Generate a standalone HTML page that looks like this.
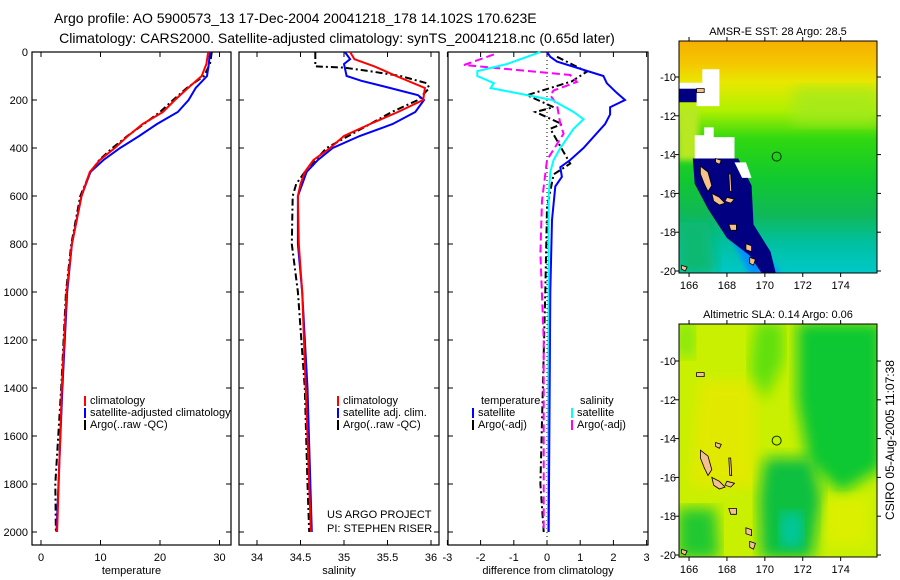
<!DOCTYPE html>
<html><head><meta charset="utf-8"><style>
html,body{margin:0;padding:0;background:#fff;}
svg{display:block;font-family:"Liberation Sans",sans-serif;}
</style></head><body>
<svg id="fig" width="900" height="580" viewBox="0 0 900 580">
<defs>
<linearGradient id="sstGrad" x1="0" y1="0" x2="0" y2="1">
<stop offset="0" stop-color="#f5b000"/><stop offset="0.1" stop-color="#f5c800"/><stop offset="0.18" stop-color="#e8e800"/><stop offset="0.3" stop-color="#b0f000"/><stop offset="0.42" stop-color="#30d810"/><stop offset="0.6" stop-color="#10c830"/><stop offset="0.75" stop-color="#10b858"/><stop offset="0.87" stop-color="#00c0a0"/><stop offset="1" stop-color="#00c8c8"/>
</linearGradient>
<filter id="blur6"><feGaussianBlur stdDeviation="7"/></filter>
<filter id="blur3"><feGaussianBlur stdDeviation="3"/></filter>
<clipPath id="clipMap1"><rect x="679" y="41" width="198" height="232"/></clipPath>
<clipPath id="clipMap2"><rect x="679" y="324" width="198" height="233"/></clipPath>
</defs>
<text x="54" y="23" font-size="14" text-anchor="start">Argo profile: AO 5900573_13 17-Dec-2004 20041218_178 14.102S 170.623E</text>
<text x="337" y="43" font-size="14" text-anchor="middle">Climatology: CARS2000. Satellite-adjusted climatology: synTS_20041218.nc (0.65d later)</text>
<g id="panels"></g>
<g id="maps"></g>
<text transform="translate(894,440) rotate(-90)" font-size="12" text-anchor="middle">CSIRO 05-Aug-2005 11:07:38</text>
</svg>
<script>
// ---------- data ----------
const depthTicks = [0,200,400,600,800,1000,1200,1400,1600,1800,2000];
const tempTicks = [0,10,20,30];
const salTicks = [34,34.5,35,35.5,36];
const diffTicks = [-3,-2,-1,0,1,2,3];

const tClimDepth = [0,50,100,150,200,250,300,350,400,450,500,600,800,1000,1400,2000];
const tClimVal   = [28.1,27.8,27.0,24.7,22.5,20.5,17.1,14.6,12.4,9.9,8.2,6.8,5.2,4.3,3.5,2.7];
const tSatDepth  = [0,50,100,150,200,250,300,350,400,450,500,600,800,1000,1400,2000];
const tSatVal    = [28.4,28.2,27.9,26.0,24.8,23.0,19.5,16.5,13.3,10.5,8.3,6.8,5.2,4.4,3.6,2.6];
const tArgoDepth = [0,50,100,150,200,250,300,350,400,450,500,600,800,1000,1400,1800,2000];
const tArgoVal   = [28.7,28.4,27.4,24.5,22.2,20.0,17.3,14.5,12.0,9.8,8.3,6.6,5.1,4.2,3.4,2.4,2.5];

const sClimDepth = [0,30,60,100,150,200,250,300,350,400,450,500,550,600,800,1000,1400,2000];
const sClimVal   = [35.07,35.12,35.35,35.6,35.93,35.91,35.62,35.3,35.0,34.84,34.65,34.55,34.5,34.47,34.48,34.52,34.56,34.62];
const sSatDepth  = [0,30,50,100,120,150,180,200,250,300,350,400,450,500,600,800,1000,1400,2000];
const sSatVal    = [35.01,35.07,35.0,35.03,35.2,35.53,35.85,35.92,35.82,35.56,35.18,34.87,34.7,34.57,34.47,34.47,34.52,34.58,34.63];
const sArgoDepth = [0,60,65,80,100,130,150,200,250,300,400,500,550,600,800,1000,1400,1800,2000];
const sArgoVal   = [34.67,34.67,35.0,35.3,35.65,35.95,35.98,35.85,35.55,35.3,34.8,34.55,34.45,34.41,34.4,34.47,34.55,34.58,34.6];

const dTSatDepth = [0,20,40,100,130,170,200,230,260,300,400,450,480,520,560,700,1000,2000];
const dTSatVal   = [0,0.1,0.3,1.7,1.8,2.1,2.35,1.9,1.9,1.75,1.1,0.7,0.4,0.45,0.25,0.15,0.1,0.05];
const dSSatDepth = [0,50,80,100,130,150,200,250,280,320,400,450,500,600,2000];
const dSSatVal   = [-0.2,-1.2,-2.1,-2.1,-1.6,-1.7,0.15,0.8,1.1,0.8,0.4,0.2,0.1,0.05,0.03];
const dSArgoDepth= [10,54,96,125,160,180,220,300,340,450,620,840,1200,2000];
const dSArgoVal  = [-1.6,-2.5,0.7,0.9,0.2,0.1,0.3,0.4,0.5,0.0,-0.15,-0.2,-0.1,-0.1];
const dTArgoDepth= [20,82,122,150,180,230,250,300,320,465,510,650,1000,1800,2000];
const dTArgoVal  = [0.3,1.2,0.75,0.1,-0.6,0.2,-0.35,0.45,0.1,0.7,0.2,0.0,-0.05,-0.2,-0.1];

// ---------- helpers ----------
const NS = 'http://www.w3.org/2000/svg';
function mk(tag, attrs, parent){const e=document.createElementNS(NS,tag);for(const k in attrs)e.setAttribute(k,attrs[k]);parent.appendChild(e);return e;}
const PT=52, PB=545;
const yDepth = d => PT + d*0.24;
const panelsG = document.getElementById('panels');

function panel(name, x0, x1, xScale, ticks, tickFmt, xlabel, showDepthLabels){
  const g = mk('g',{},panelsG);
  
  
  const fr = mk('rect',{x:x0,y:PT,width:x1-x0,height:PB-PT,fill:'none',stroke:'#000','stroke-width':1.2},g);
  
  
  depthTicks.forEach(d=>{
    const y=yDepth(d);
    mk('line',{x1:x0,x2:x0+5,y1:y,y2:y,stroke:'#000'},g);
    mk('line',{x1:x1-5,x2:x1,y1:y,y2:y,stroke:'#000'},g);
    if(showDepthLabels){
      const t=mk('text',{x:x0-4,y:y+4,'font-size':11,'text-anchor':'end'},g);
      t.textContent=d;
      
      
    }
  });
  ticks.forEach(v=>{
    const x=xScale(v);
    mk('line',{x1:x,x2:x,y1:PT,y2:PT+5,stroke:'#000'},g);
    mk('line',{x1:x,x2:x,y1:PB-5,y2:PB,stroke:'#000'},g);
    const t=mk('text',{x:x,y:PB+16,'font-size':11,'text-anchor':'middle'},g);
    t.textContent=tickFmt(v);
    
    
  });
  const xl=mk('text',{x:(x0+x1)/2,y:PB+29,'font-size':11,'text-anchor':'middle'},g);
  xl.textContent=xlabel;
  
  
  return g;
}
function series(g, name, depths, vals, xScale, color, dash){
  const pts = depths.map((d,i)=>xScale(vals[i]).toFixed(1)+','+yDepth(d).toFixed(1)).join(' ');
  const a={points:pts,fill:'none',stroke:color,'stroke-width':2};
  if(dash) a['stroke-dasharray']=dash;
  const p=mk('polyline',a,g);
  
  
}
function legendItem(g, name, x, y, color, label){
  mk('line',{x1:x,x2:x,y1:y-8,y2:y+2,stroke:color,'stroke-width':2},g);
  const t=mk('text',{x:x+5,y:y,'font-size':11},g);
  t.textContent=label;
  
  
}
const ARGO_DASH='7,3,2,3';

// temperature panel
const xT = v => 41 + v*5.95;
const gT = panel('temperature-panel',32,231,xT,tempTicks,v=>v,'temperature',true);
series(gT,'temp-argo-line',tArgoDepth,tArgoVal,xT,'#000',ARGO_DASH);
series(gT,'temp-satellite-line',tSatDepth,tSatVal,xT,'#0000ff');
series(gT,'temp-climatology-line',tClimDepth,tClimVal,xT,'#ff0000');
legendItem(gT,'legend-climatology',85,404,'#ff0000','climatology');
legendItem(gT,'legend-satellite-clim',85,416,'#0000ff','satellite-adjusted climatology');
legendItem(gT,'legend-argo',85,428,'#000','Argo(..raw -QC)');

// salinity panel
const xS = v => 257 + (v-34)*87;
const gS = panel('salinity-panel',239,439,xS,salTicks,v=>v,'salinity',false);
series(gS,'sal-argo-line',sArgoDepth,sArgoVal,xS,'#000',ARGO_DASH);
series(gS,'sal-satellite-line',sSatDepth,sSatVal,xS,'#0000ff');
series(gS,'sal-climatology-line',sClimDepth,sClimVal,xS,'#ff0000');
legendItem(gS,'legend-sal-climatology',338,404,'#ff0000','climatology');
legendItem(gS,'legend-sal-satellite',338,416,'#0000ff','satellite adj. clim.');
legendItem(gS,'legend-sal-argo',338,428,'#000','Argo(..raw -QC)');
const p1=mk('text',{x:327,y:518,'font-size':11},gS);p1.textContent='US ARGO PROJECT';


const p2=mk('text',{x:327,y:532,'font-size':11},gS);p2.textContent='PI: STEPHEN RISER';



// difference panel
const xD = v => 547 + v*33.2;
const gD = panel('difference-panel',448,648,xD,diffTicks,v=>v,'difference from climatology',false);
mk('line',{x1:xD(0),x2:xD(0),y1:PT,y2:PB,stroke:'#000','stroke-dasharray':'1,3'},gD);
series(gD,'diff-temp-argo-line',dTArgoDepth,dTArgoVal,xD,'#000',ARGO_DASH);
series(gD,'diff-sal-argo-line',dSArgoDepth,dSArgoVal,xD,'#ff00ff','8,4');
series(gD,'diff-sal-satellite-line',dSSatDepth,dSSatVal,xD,'#00ffff');
series(gD,'diff-temp-satellite-line',dTSatDepth,dTSatVal,xD,'#0000ff');
const lt=mk('text',{x:481,y:404,'font-size':11},gD);lt.textContent='temperature';


const ls=mk('text',{x:580,y:404,'font-size':11},gD);ls.textContent='salinity';


legendItem(gD,'legend-diff-temp-sat',473,416,'#0000ff','satellite');
legendItem(gD,'legend-diff-temp-argo',473,428,'#000','Argo(-adj)');
legendItem(gD,'legend-diff-sal-sat',572,416,'#00ffff','satellite');
legendItem(gD,'legend-diff-sal-argo',572,428,'#ff00ff','Argo(-adj)');

// ---------- maps ----------
const lonTicks=[166,168,170,172,174];
const latTicks=[-10,-12,-14,-16,-18,-20];
const mapsG=document.getElementById('maps');
const mx = lon => 679 + (lon-165.47)*18.95;
function mapFrame(name,top,bottom,y10,title){
  const my = lat => y10 + (-10-lat)*19.4;
  const g=mk('g',{},mapsG);
  
  
  return {g,my,top,bottom,title};
}
function finishMap(m){
  const g=m.g;
  const fr=mk('rect',{x:679,y:m.top,width:198,height:m.bottom-m.top,fill:'none',stroke:'#000','stroke-width':1},g);
  
  
  lonTicks.forEach(l=>{const x=mx(l);
    mk('line',{x1:x,x2:x,y1:m.top-4,y2:m.top,stroke:'#000'},g);
    mk('line',{x1:x,x2:x,y1:m.bottom,y2:m.bottom+4,stroke:'#000'},g);
    const t=mk('text',{x:x,y:m.bottom+16,'font-size':11,'text-anchor':'middle'},g);t.textContent=l;
    
    });
  latTicks.forEach(l=>{const y=m.my(l);
    mk('line',{x1:675,x2:679,y1:y,y2:y,stroke:'#000'},g);
    mk('line',{x1:877,x2:881,y1:y,y2:y,stroke:'#000'},g);
    const t=mk('text',{x:676,y:y+4,'font-size':11,'text-anchor':'end'},g);t.textContent=l;
    
    });
  const tt=mk('text',{x:778,y:m.top-6,'font-size':11,'text-anchor':'middle'},g);tt.textContent=m.title;
  
  
  const c=mk('circle',{cx:mx(170.623),cy:m.my(-14.102),r:4.5,fill:'none',stroke:'#003300','stroke-width':1},g);
  
  
}
function poly(g,m,pts,fill,stroke,extra){
  const a={points:pts.map(p=>mx(p[0]).toFixed(1)+','+m.my(p[1]).toFixed(1)).join(' '),fill:fill,stroke:stroke||'none'};
  Object.assign(a,extra||{});
  return mk('polygon',a,g);
}
const islands=[
 [[166.6,-14.6],[167.0,-14.9],[167.2,-15.6],[167.0,-15.9],[166.8,-15.5],[166.6,-15.0]],
 [[167.2,-16.0],[167.6,-16.2],[167.9,-16.5],[167.6,-16.6],[167.3,-16.4]],
 [[168.0,-16.2],[168.4,-16.3],[168.2,-16.5],[167.9,-16.4]],
 [[168.1,-17.6],[168.5,-17.6],[168.5,-17.9],[168.2,-17.9]],
 [[169.0,-18.6],[169.3,-18.7],[169.3,-19.0],[169.0,-18.9]],
 [[169.2,-19.3],[169.5,-19.4],[169.4,-19.7],[169.2,-19.6]],
 [[167.4,-14.2],[167.7,-14.3],[167.6,-14.5],[167.4,-14.4]],
 [[168.1,-15.0],[168.2,-15.0],[168.25,-15.9],[168.15,-15.9]],
 [[166.4,-10.6],[166.8,-10.6],[166.8,-10.8],[166.4,-10.8]],
 [[165.6,-19.7],[165.9,-19.8],[165.8,-20.0],[165.6,-19.9]]
];

// SST map
const m1=mapFrame('sst-map',41,273,77,'AMSR-E SST: 28 Argo: 28.5');
const c1=mk('g',{'clip-path':'url(#clipMap1)'},m1.g);
mk('rect',{x:679,y:41,width:198,height:232,fill:'url(#sstGrad)'},c1);
poly(c1,m1,[[165.4,-11.5],[166.5,-11.5],[166.5,-14.3],[165.4,-14.3]],'#b8e820','none',{filter:'url(#blur3)'});
poly(c1,m1,[[171.5,-10.5],[176,-10.5],[176,-12.5],[171.5,-12.5]],'#a0e820','none',{filter:'url(#blur6)',opacity:0.7});
poly(c1,m1,[[165.4,-17.5],[167,-17.5],[167.5,-20.2],[165.4,-20.2]],'#10b870','none',{filter:'url(#blur6)'});
poly(c1,m1,[[168.2,-18.2],[169.4,-18.6],[170.9,-20.2],[169.2,-20.2]],'#0090ff','none',{filter:'url(#blur3)'});
poly(c1,m1,[[166.2,-14.2],[168.6,-14.2],[169.3,-15.6],[169.4,-17.6],[170.3,-19.0],[170.6,-20.2],[169.9,-20.2],[169.2,-19.2],[168.0,-18.3],[167.0,-16.8],[166.3,-15.5]],'#000080');
poly(c1,m1,[[165.47,-10.6],[166.5,-10.6],[166.5,-11.3],[165.47,-11.3]],'#000080');
poly(c1,m1,[[166.7,-9.6],[167.6,-9.6],[167.6,-11.5],[166.4,-11.5],[166.4,-10.6],[165.5,-10.6],[165.5,-10.3],[166.7,-10.3]],'#ffffff');
poly(c1,m1,[[166.8,-12.6],[167.3,-12.6],[167.3,-13.1],[168.4,-13.1],[168.4,-14.2],[166.3,-14.2],[166.3,-13.0],[166.8,-13.0]],'#ffffff');
poly(c1,m1,[[168.4,-14.4],[169.0,-14.4],[169.3,-15.2],[168.8,-15.2]],'#ffffff');
islands.forEach(pp=>{const e=poly(c1,m1,pp,'#f5c090','#000',{'stroke-width':0.8});
  
  });
finishMap(m1);

// SLA map
const m2=mapFrame('sla-map',324,557,361,'Altimetric SLA: 0.14 Argo: 0.06');
const c2=mk('g',{'clip-path':'url(#clipMap2)'},m2.g);
mk('rect',{x:679,y:324,width:198,height:233,fill:'#c8f000'},c2);
poly(c2,m2,[[166.5,-11],[169.5,-11],[169.5,-16.5],[166,-16.5]],'#e8e800','none',{filter:'url(#blur6)',opacity:0.8});
poly(c2,m2,[[171.7,-8.0],[176.2,-8.0],[176.2,-15.5],[174,-16.8],[172.3,-15.2],[171.7,-12]],'#10c830','none',{filter:'url(#blur6)'});
poly(c2,m2,[[169.5,-8.0],[171,-8.0],[171,-10],[170,-12],[169.2,-10.5]],'#60e010','none',{filter:'url(#blur6)'});
poly(c2,m2,[[170,-15],[172.5,-15],[173,-17],[172.5,-20.2],[169.8,-20.2],[169.7,-17]],'#10c040','none',{filter:'url(#blur6)'});
poly(c2,m2,[[170.8,-17.8],[172,-17.8],[172,-19.6],[170.8,-19.6]],'#00c8a0','none',{filter:'url(#blur6)'});
poly(c2,m2,[[165.4,-17.6],[167.4,-17.6],[167.6,-20.2],[165.4,-20.2]],'#20c830','none',{filter:'url(#blur6)'});
poly(c2,m2,[[165.4,-8.0],[166.3,-8.0],[166.3,-9.8],[165.4,-9.8]],'#80e810','none',{filter:'url(#blur6)'});
poly(c2,m2,[[173.2,-17.0],[175.5,-17.0],[175.5,-19.5],[173.2,-19.5]],'#e0f000','none',{filter:'url(#blur6)',opacity:0.8});
islands.forEach(pp=>{const e=poly(c2,m2,pp,'#f5c090','#000',{'stroke-width':0.8});
  
  });
finishMap(m2);
</script>
</body></html>
